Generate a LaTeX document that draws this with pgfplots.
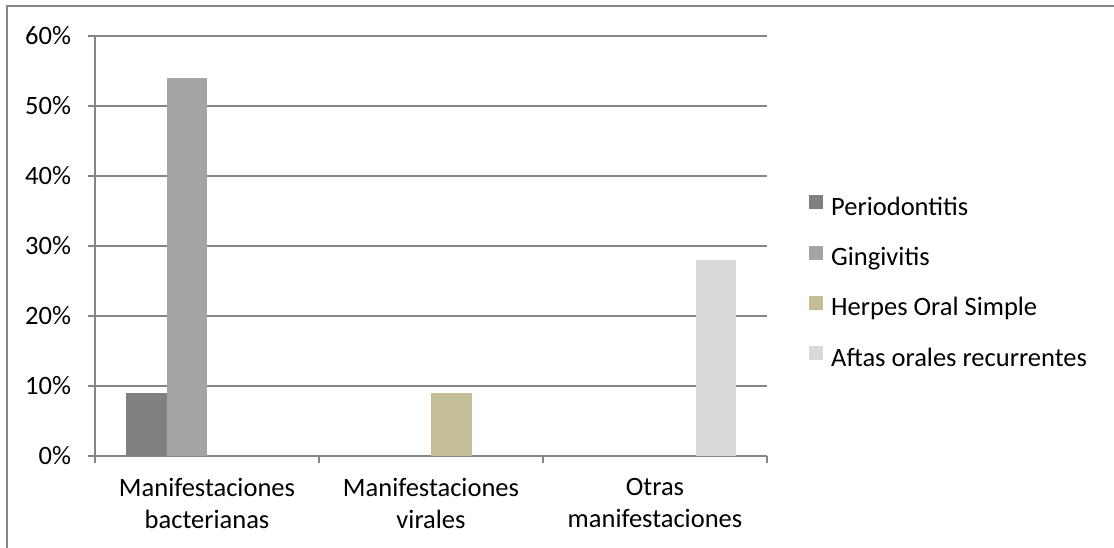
\documentclass[border=0pt]{standalone}
\usepackage{fontspec}
\setmainfont{Carlito}
\usepackage{pgfplots}
\pgfplotsset{compat=1.18}
\definecolor{cPer}{HTML}{808080}
\definecolor{cGin}{HTML}{A5A5A5}
\definecolor{cHer}{HTML}{C4BD97}
\definecolor{cAft}{HTML}{D9D9D9}
\definecolor{gridc}{HTML}{868686}
\pgfplotsset{sq legend/.style={legend image code/.code={\fill[##1] (0pt,0pt) rectangle (14pt,14pt);}}}
\begin{document}
\fontsize{26.5}{32}\selectfont
\begin{tikzpicture}
\path[use as bounding box] (0,0) rectangle (1114pt,548pt);
\draw[gridc, line width=1.2pt] (7pt,0) -- (7pt,542pt) -- (1114pt,542pt);
\begin{axis}[
  at={(95pt,92pt)}, anchor=south west,
  scale only axis, width=672pt, height=420pt,
  xmin=-0.5, xmax=2.5, ymin=0, ymax=0.6,
  ybar=0pt, bar width=40.5pt,
  axis lines=left,
  axis line style={draw=gridc, line width=1.2pt, -},
  ytick={0,0.1,0.2,0.3,0.4,0.5,0.6},
  yticklabels={0\%,10\%,20\%,30\%,40\%,50\%,60\%},
  ymajorgrids, grid style={draw=gridc, line width=1.2pt},
  tick align=outside, major tick length=7pt,
  tick style={draw=gridc, line width=1.2pt},
  xtick={-0.5,0.5,1.5,2.5}, xticklabels={},
  extra x ticks={0,1,2},
  extra x tick labels={{Manifestaciones\\bacterianas},{Manifestaciones\\virales},{Otras\\manifestaciones}},
  extra x tick style={tick style={draw=none}},
  xticklabel style={align=center, font=\fontsize{26.5}{32}\selectfont, yshift=-6pt},
  yticklabel style={font=\fontsize{26.5}{32}\selectfont, xshift=-8pt},
  legend style={at={(1.0625,0.6214)}, anchor=north west, draw=none, fill=none,
    inner sep=0pt, font=\fontsize{26.5}{32}\selectfont,
    nodes={inner sep=0pt, text height=18pt, text depth=6pt},
    row sep=24.3pt, /tikz/column sep=8pt},
  legend cell align=left,
]
\addplot[fill=cPer, draw=none, sq legend] coordinates {(0,0.09)};
\addplot[fill=cGin, draw=none, sq legend] coordinates {(0,0.54)};
\addplot[fill=cHer, draw=none, sq legend] coordinates {(1,0.09)};
\addplot[fill=cAft, draw=none, sq legend] coordinates {(2,0.28)};
\legend{Periodontitis,Gingivitis,Herpes Oral Simple,Aftas orales recurrentes}
\end{axis}
\end{tikzpicture}
\end{document}
